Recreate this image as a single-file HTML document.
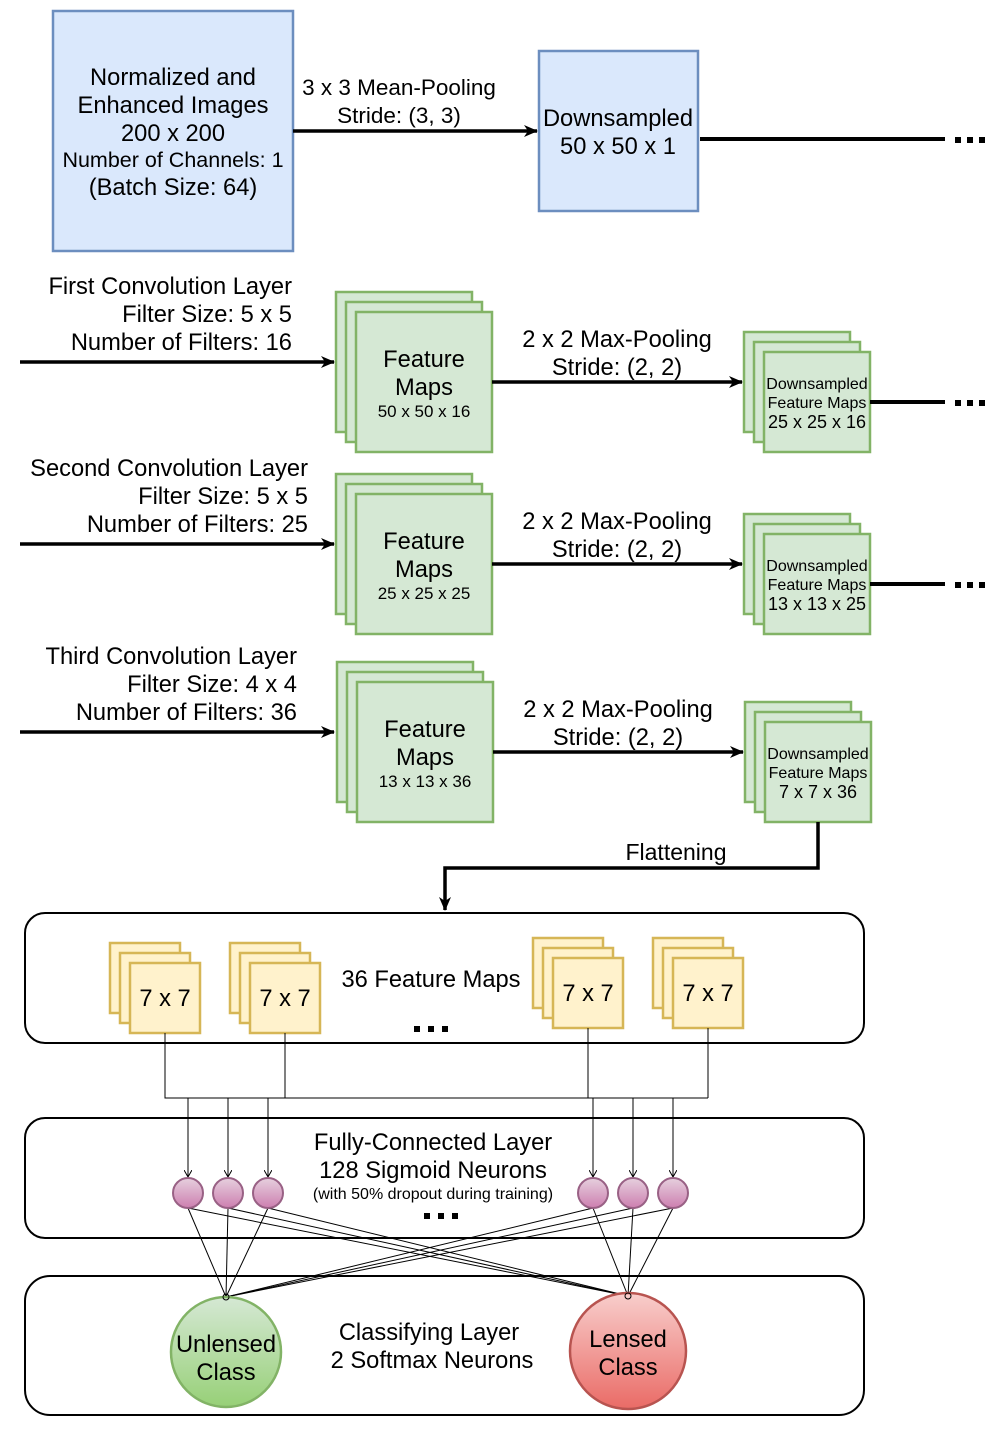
<!DOCTYPE html>
<html><head><meta charset="utf-8"><style>
html,body{margin:0;padding:0;background:#fff}
svg{display:block}
text{font-family:"Liberation Sans",sans-serif;fill:#000}
</style></head><body>
<svg width="1001" height="1436" viewBox="0 0 1001 1436" xmlns="http://www.w3.org/2000/svg">
<defs>
<marker id="ab" markerWidth="14" markerHeight="14" refX="13" refY="7" orient="auto" markerUnits="userSpaceOnUse" viewBox="0 0 14 14"><path d="M0,1 L14,7 L0,13 L4,7 z" fill="#000"/></marker>
<marker id="as" markerWidth="8" markerHeight="8" refX="7" refY="4" orient="auto" markerUnits="userSpaceOnUse" viewBox="0 0 8 8"><path d="M0,0 L7,4 L0,8" fill="none" stroke="#000" stroke-width="1"/></marker>
<linearGradient id="gp" x1="0" y1="0" x2="0" y2="1"><stop offset="0" stop-color="#e6d0de"/><stop offset="1" stop-color="#cd7fb0"/></linearGradient>
<linearGradient id="gg" x1="0" y1="0" x2="0" y2="1"><stop offset="0" stop-color="#d5e8d4"/><stop offset="1" stop-color="#97d077"/></linearGradient>
<linearGradient id="gr" x1="0" y1="0" x2="0" y2="1"><stop offset="0" stop-color="#f8cecc"/><stop offset="1" stop-color="#ea6b66"/></linearGradient>
</defs>

<!-- Top row -->
<rect x="53" y="11" width="240" height="240" fill="#dae8fc" stroke="#6c8ebf" stroke-width="2.5"/>
<g font-size="23.7" text-anchor="middle">
<text x="173" y="85">Normalized and</text>
<text x="173" y="113">Enhanced Images</text>
<text x="173" y="141">200 x 200</text>
<text x="173" y="167" font-size="21.5">Number of Channels: 1</text>
<text x="173" y="195">(Batch Size: 64)</text>
</g>
<line x1="293" y1="131" x2="537" y2="131" stroke="#000" stroke-width="3.5" marker-end="url(#ab)"/>
<g font-size="22.5" text-anchor="middle"><text x="399" y="95">3 x 3 Mean-Pooling</text><text x="399" y="123">Stride: (3, 3)</text></g>
<rect x="539" y="51" width="159" height="160" fill="#dae8fc" stroke="#6c8ebf" stroke-width="2.5"/>
<g font-size="23.7" text-anchor="middle"><text x="618" y="126">Downsampled</text><text x="618" y="154">50 x 50 x 1</text></g>
<line x1="700" y1="139" x2="945" y2="139" stroke="#000" stroke-width="4"/>
<g fill="#000"><rect x="955" y="137" width="6" height="6"/><rect x="967" y="137" width="6" height="6"/><rect x="979" y="137" width="6" height="6"/></g>

<!-- Row 1 -->
<g font-size="23.7" text-anchor="end"><text x="292" y="294">First Convolution Layer</text><text x="292" y="322">Filter Size: 5 x 5</text><text x="292" y="350">Number of Filters: 16</text></g>
<line x1="20" y1="362" x2="334" y2="362" stroke="#000" stroke-width="3.5" marker-end="url(#ab)"/>
<g fill="#d5e8d4" stroke="#82b366" stroke-width="2.5">
<rect x="336" y="292" width="136" height="140"/><rect x="346" y="302" width="136" height="140"/><rect x="356" y="312" width="136" height="140"/></g>
<g text-anchor="middle" font-size="23.7"><text x="424" y="367">Feature</text><text x="424" y="395">Maps</text><text x="424" y="417" font-size="17">50 x 50 x 16</text></g>
<line x1="492" y1="382" x2="742" y2="382" stroke="#000" stroke-width="3.5" marker-end="url(#ab)"/>
<g font-size="23.7" text-anchor="middle"><text x="617" y="347">2 x 2 Max-Pooling</text><text x="617" y="375">Stride: (2, 2)</text></g>
<g fill="#d5e8d4" stroke="#82b366" stroke-width="2.5">
<rect x="744" y="332" width="106" height="100"/><rect x="754" y="342" width="106" height="100"/><rect x="764" y="352" width="106" height="100"/></g>
<g font-size="16" text-anchor="middle"><text x="817" y="389">Downsampled</text><text x="817" y="408">Feature Maps</text><text x="817" y="428" font-size="18">25 x 25 x 16</text></g>
<line x1="870" y1="402" x2="945" y2="402" stroke="#000" stroke-width="4"/>
<g fill="#000"><rect x="955" y="400" width="6" height="6"/><rect x="967" y="400" width="6" height="6"/><rect x="979" y="400" width="6" height="6"/></g>

<!-- Row 2 -->
<g font-size="23.7" text-anchor="end"><text x="308" y="476">Second Convolution Layer</text><text x="308" y="504">Filter Size: 5 x 5</text><text x="308" y="532">Number of Filters: 25</text></g>
<line x1="20" y1="544" x2="334" y2="544" stroke="#000" stroke-width="3.5" marker-end="url(#ab)"/>
<g fill="#d5e8d4" stroke="#82b366" stroke-width="2.5">
<rect x="336" y="474" width="136" height="140"/><rect x="346" y="484" width="136" height="140"/><rect x="356" y="494" width="136" height="140"/></g>
<g text-anchor="middle" font-size="23.7"><text x="424" y="549">Feature</text><text x="424" y="577">Maps</text><text x="424" y="599" font-size="17">25 x 25 x 25</text></g>
<line x1="492" y1="564" x2="742" y2="564" stroke="#000" stroke-width="3.5" marker-end="url(#ab)"/>
<g font-size="23.7" text-anchor="middle"><text x="617" y="529">2 x 2 Max-Pooling</text><text x="617" y="557">Stride: (2, 2)</text></g>
<g fill="#d5e8d4" stroke="#82b366" stroke-width="2.5">
<rect x="744" y="514" width="106" height="100"/><rect x="754" y="524" width="106" height="100"/><rect x="764" y="534" width="106" height="100"/></g>
<g font-size="16" text-anchor="middle"><text x="817" y="571">Downsampled</text><text x="817" y="590">Feature Maps</text><text x="817" y="610" font-size="18">13 x 13 x 25</text></g>
<line x1="870" y1="584" x2="945" y2="584" stroke="#000" stroke-width="4"/>
<g fill="#000"><rect x="955" y="582" width="6" height="6"/><rect x="967" y="582" width="6" height="6"/><rect x="979" y="582" width="6" height="6"/></g>

<!-- Row 3 -->
<g font-size="23.7" text-anchor="end"><text x="297" y="664">Third Convolution Layer</text><text x="297" y="692">Filter Size: 4 x 4</text><text x="297" y="720">Number of Filters: 36</text></g>
<line x1="20" y1="732" x2="334" y2="732" stroke="#000" stroke-width="3.5" marker-end="url(#ab)"/>
<g fill="#d5e8d4" stroke="#82b366" stroke-width="2.5">
<rect x="337" y="662" width="136" height="140"/><rect x="347" y="672" width="136" height="140"/><rect x="357" y="682" width="136" height="140"/></g>
<g text-anchor="middle" font-size="23.7"><text x="425" y="737">Feature</text><text x="425" y="765">Maps</text><text x="425" y="787" font-size="17">13 x 13 x 36</text></g>
<line x1="493" y1="752" x2="743" y2="752" stroke="#000" stroke-width="3.5" marker-end="url(#ab)"/>
<g font-size="23.7" text-anchor="middle"><text x="618" y="717">2 x 2 Max-Pooling</text><text x="618" y="745">Stride: (2, 2)</text></g>
<g fill="#d5e8d4" stroke="#82b366" stroke-width="2.5">
<rect x="745" y="702" width="106" height="100"/><rect x="755" y="712" width="106" height="100"/><rect x="765" y="722" width="106" height="100"/></g>
<g font-size="16" text-anchor="middle"><text x="818" y="759">Downsampled</text><text x="818" y="778">Feature Maps</text><text x="818" y="798" font-size="18">7 x 7 x 36</text></g>

<!-- Flatten -->
<polyline points="818,822 818,868 445,868 445,910" fill="none" stroke="#000" stroke-width="3.5" marker-end="url(#ab)"/>
<text x="676" y="860" font-size="23" text-anchor="middle">Flattening</text>

<!-- Container 1 -->
<rect x="25" y="913" width="839" height="130" rx="20" fill="none" stroke="#000" stroke-width="2"/>
<g fill="#fff2cc" stroke="#d6b656" stroke-width="2.5">
<rect x="110" y="943" width="70" height="70"/><rect x="120" y="953" width="70" height="70"/><rect x="130" y="963" width="70" height="70"/>
<rect x="230" y="943" width="70" height="70"/><rect x="240" y="953" width="70" height="70"/><rect x="250" y="963" width="70" height="70"/>
<rect x="533" y="938" width="70" height="70"/><rect x="543" y="948" width="70" height="70"/><rect x="553" y="958" width="70" height="70"/>
<rect x="653" y="938" width="70" height="70"/><rect x="663" y="948" width="70" height="70"/><rect x="673" y="958" width="70" height="70"/>
</g>
<g font-size="23.7" text-anchor="middle">
<text x="165" y="1006">7 x 7</text><text x="285" y="1006">7 x 7</text><text x="588" y="1001">7 x 7</text><text x="708" y="1001">7 x 7</text>
<text x="431" y="987">36 Feature Maps</text>
</g>
<g fill="#000"><rect x="414" y="1026" width="6" height="6"/><rect x="428" y="1026" width="6" height="6"/><rect x="442" y="1026" width="6" height="6"/></g>
<g fill="none" stroke="#000" stroke-width="1">
<polyline points="165,1033 165,1098 708,1098"/><line x1="285" y1="1033" x2="285" y2="1098"/>
<line x1="588" y1="1028" x2="588" y2="1098"/><line x1="708" y1="1028" x2="708" y2="1098"/>
<g marker-end="url(#as)">
<line x1="188" y1="1098" x2="188" y2="1177"/><line x1="228" y1="1098" x2="228" y2="1177"/><line x1="268" y1="1098" x2="268" y2="1177"/>
<line x1="593" y1="1098" x2="593" y2="1177"/><line x1="633" y1="1098" x2="633" y2="1177"/><line x1="673" y1="1098" x2="673" y2="1177"/>
</g></g>

<!-- Container 2 -->
<rect x="25" y="1118" width="839" height="120" rx="20" fill="none" stroke="#000" stroke-width="2"/>
<g font-size="23.7" text-anchor="middle"><text x="433" y="1150">Fully-Connected Layer</text><text x="433" y="1178">128 Sigmoid Neurons</text>
<text x="433" y="1199" font-size="16">(with 50% dropout during training)</text></g>
<g fill="#000"><rect x="424" y="1213" width="6" height="6"/><rect x="438" y="1213" width="6" height="6"/><rect x="452" y="1213" width="6" height="6"/></g>

<!-- Container 3 -->
<rect x="25" y="1276" width="839" height="139" rx="25" fill="none" stroke="#000" stroke-width="2"/>

<!-- connections -->
<g stroke="#000" stroke-width="1" fill="none">
<line x1="188" y1="1208" x2="226" y2="1297"/><line x1="228" y1="1208" x2="226" y2="1297"/><line x1="268" y1="1208" x2="226" y2="1297"/>
<line x1="593" y1="1208" x2="226" y2="1297"/><line x1="633" y1="1208" x2="226" y2="1297"/><line x1="673" y1="1208" x2="226" y2="1297"/>
<line x1="188" y1="1208" x2="628" y2="1296"/><line x1="228" y1="1208" x2="628" y2="1296"/><line x1="268" y1="1208" x2="628" y2="1296"/>
<line x1="593" y1="1208" x2="628" y2="1296"/><line x1="633" y1="1208" x2="628" y2="1296"/><line x1="673" y1="1208" x2="628" y2="1296"/>
</g>
<g fill="url(#gp)" stroke="#996185" stroke-width="2">
<circle cx="188" cy="1193" r="15"/><circle cx="228" cy="1193" r="15"/><circle cx="268" cy="1193" r="15"/>
<circle cx="593" cy="1193" r="15"/><circle cx="633" cy="1193" r="15"/><circle cx="673" cy="1193" r="15"/>
</g>
<circle cx="226" cy="1352" r="55" fill="url(#gg)" stroke="#82b366" stroke-width="2.5"/>
<circle cx="628" cy="1351" r="58" fill="url(#gr)" stroke="#b85450" stroke-width="2.5"/>
<circle cx="226" cy="1297" r="3" fill="none" stroke="#000" stroke-width="1"/>
<circle cx="628" cy="1296" r="3" fill="none" stroke="#000" stroke-width="1"/>
<g font-size="23.7" text-anchor="middle">
<text x="226" y="1352">Unlensed</text><text x="226" y="1380">Class</text>
<text x="628" y="1347">Lensed</text><text x="628" y="1375">Class</text>
<text x="429" y="1340">Classifying Layer</text><text x="432" y="1368">2 Softmax Neurons</text>
</g>
</svg>
</body></html>
